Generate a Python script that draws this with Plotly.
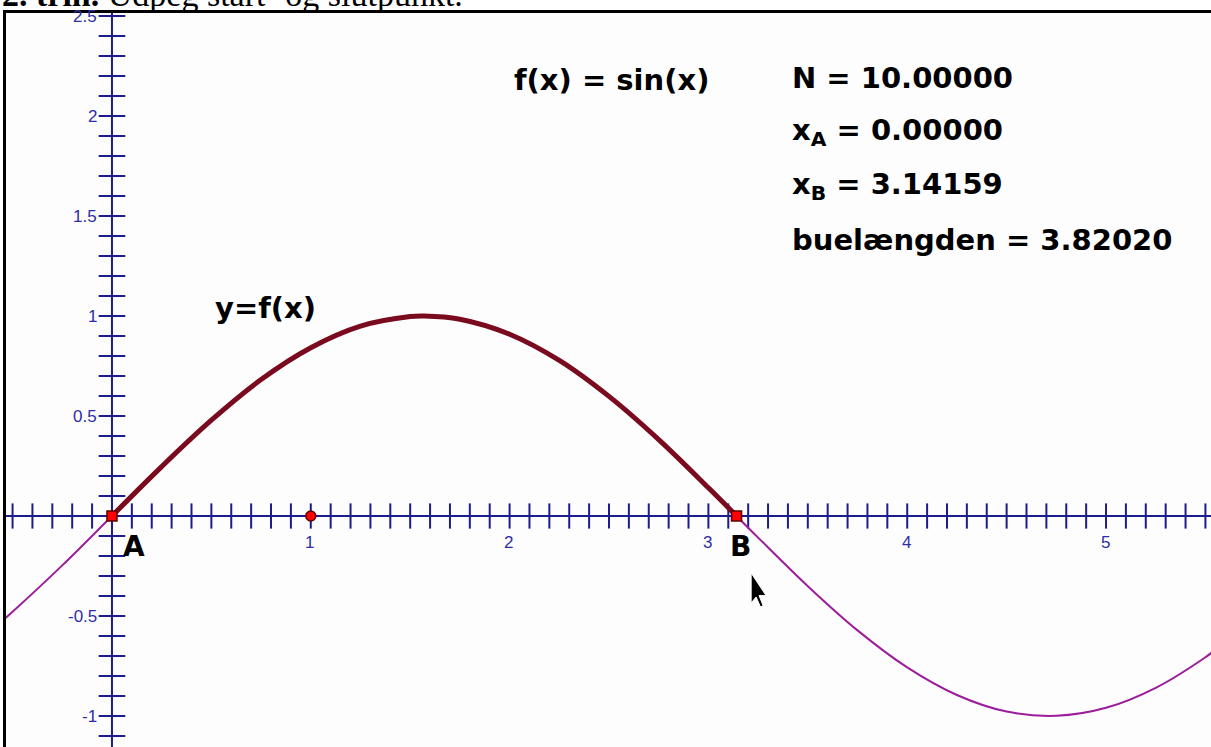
import numpy as np
import plotly.graph_objects as go

# ---- data ----
curve_x = [-0.55, -0.5, -0.25, 0.0, 0.25, 0.5, 0.75, 1.0, 1.25, 1.5, 1.75, 2.0, 2.25, 2.5,
           2.75, 3.0, 3.25, 3.5, 3.75, 4.0, 4.25, 4.5, 4.75, 5.0, 5.25, 5.5, 5.55]
curve_y = [-0.523, -0.479, -0.247, 0.0, 0.247, 0.479, 0.682, 0.841, 0.949, 0.997, 0.984, 0.909,
           0.778, 0.598, 0.382, 0.141, -0.108, -0.351, -0.572, -0.757, -0.895, -0.978, -0.999,
           -0.959, -0.859, -0.706, -0.668]
arc_x = [0.0, 0.25, 0.5, 0.75, 1.0, 1.25, 1.5, 1.571, 1.75, 2.0, 2.25, 2.5, 2.75, 3.0, 3.14159]
arc_y = [0.0, 0.247, 0.479, 0.682, 0.841, 0.949, 0.997, 1.0, 0.984, 0.909, 0.778, 0.598, 0.382,
         0.141, 0.0]
endpoint_x = [0.0, 3.14159]
endpoint_y = [0.0, 0.0]
endpoint_names = ["A", "B"]
unit_x = [1.0]
unit_y = [0.0]
xtick_labels = ["1", "2", "3", "4", "5"]
xtick_vals = [1, 2, 3, 4, 5]
ytick_labels = ["2.5", "2", "1.5", "1", "0.5", "-0.5", "-1"]
ytick_vals = [2.5, 2, 1.5, 1, 0.5, -0.5, -1]
info_lines = ["N = 10.00000", "x<sub>A</sub> = 0.00000", "x<sub>B</sub> = 3.14159",
              "buelængden = 3.82020"]

NAVY = "#1c1c8c"
LABEL = "#2e2ea4"
XR = [-0.533, 5.528]
YR = [-1.155, 2.515]

fig = go.Figure()

# minor ticks along axes
xt = np.round(np.arange(-0.5, 5.55, 0.1), 2)
yt = np.round(np.arange(-1.1, 2.55, 0.1), 2)
fig.add_trace(go.Scatter(x=xt, y=np.zeros_like(xt), mode="markers", hoverinfo="skip",
                         marker=dict(symbol="line-ns", size=18, line=dict(color=NAVY, width=2))))
fig.add_trace(go.Scatter(x=np.zeros_like(yt), y=yt, mode="markers", hoverinfo="skip",
                         marker=dict(symbol="line-ew", size=19, line=dict(color=NAVY, width=2))))

# thin full curve
fig.add_trace(go.Scatter(x=curve_x, y=curve_y, mode="lines", line_shape="spline",
                         line=dict(color="#9b1d9b", width=2)))
# thick arc A..B
fig.add_trace(go.Scatter(x=arc_x, y=arc_y, mode="lines", line_shape="spline",
                         line=dict(color="#7a0a1e", width=5)))
# unit point
fig.add_trace(go.Scatter(x=unit_x, y=unit_y, mode="markers",
                         marker=dict(symbol="circle", size=10, color="#ff0000",
                                     line=dict(color="#600000", width=1.5))))
# endpoints
fig.add_trace(go.Scatter(x=endpoint_x, y=endpoint_y, mode="markers",
                         marker=dict(symbol="square", size=10, color="#ff0000",
                                     line=dict(color="#600000", width=1.5))))

TICKF = dict(family="Arial, Liberation Sans", size=17, color=LABEL)
ann = []
for v, t in zip(xtick_vals, xtick_labels):
    ann.append(dict(x=v, y=0, text=t, showarrow=False, yshift=-26, xshift=-1, font=TICKF))
for v, t in zip(ytick_vals, ytick_labels):
    ann.append(dict(x=0, y=v, text=t, showarrow=False, xanchor="right", xshift=-13, font=TICKF))
for px, name in zip(endpoint_x, endpoint_names):
    ann.append(dict(x=px, y=0, text="<b>" + name + "</b>", showarrow=False, xanchor="center",
                    xshift=22 if name == "A" else 4, yshift=-30,
                    font=dict(family="DejaVu Sans", size=28, color="black")))

BIG = dict(family="DejaVu Sans", size=29, color="black")
ann.append(dict(x=0.77, y=1.04, text="<b>y=f(x)</b>", showarrow=False, font=BIG))
ann.append(dict(x=2.515, y=2.18, text="<b>f(x) = sin(x)</b>", showarrow=False, font=BIG))
for i, line in enumerate(info_lines):
    ann.append(dict(x=3.41, y=2.19 - i * 0.27, text="<b>" + line + "</b>", showarrow=False,
                    xanchor="left", font=BIG))

# page heading, cut off by the top edge
HEAD = dict(family="Liberation Serif, Times New Roman", size=34, color="black")
ann.append(dict(xref="paper", yref="paper", x=0, y=1, xanchor="left", yanchor="bottom",
                xshift=-6, yshift=-2, text="<b>2. trin.</b> Udpeg start- og slutpunkt.",
                showarrow=False, font=HEAD))

# mouse cursor
cursor = ("M 3.215 -0.285 L 3.215 -0.435 L 3.240 -0.405 L 3.262 -0.455 L 3.275 -0.448 "
          "L 3.255 -0.398 L 3.290 -0.398 Z")

fig.update_layout(
    width=1211, height=747,
    margin=dict(l=6, r=0, t=13, b=0),
    paper_bgcolor="white", plot_bgcolor="#fdfdfd",
    showlegend=False,
    annotations=ann,
    shapes=[dict(type="path", path=cursor, xref="x", yref="y", fillcolor="black",
                 line=dict(color="white", width=1))],
    xaxis=dict(range=XR, showgrid=False, showticklabels=False, ticks="",
               zeroline=False, showline=True, side="top", linecolor="black", linewidth=3,
               fixedrange=True),
    yaxis=dict(range=YR, showgrid=False, showticklabels=False, ticks="",
               zeroline=False, showline=True, linecolor="black", linewidth=3, fixedrange=True),
)
fig.add_shape(type="line", x0=XR[0], x1=XR[1], y0=0, y1=0, line=dict(color=NAVY, width=2),
              layer="below")
fig.add_shape(type="line", x0=0, x1=0, y0=YR[0], y1=YR[1], line=dict(color=NAVY, width=2),
              layer="below")

fig.write_html("out.html", config={"displayModeBar": False},
               post_script="document.body.style.margin='0px';document.body.style.overflow='hidden';")
